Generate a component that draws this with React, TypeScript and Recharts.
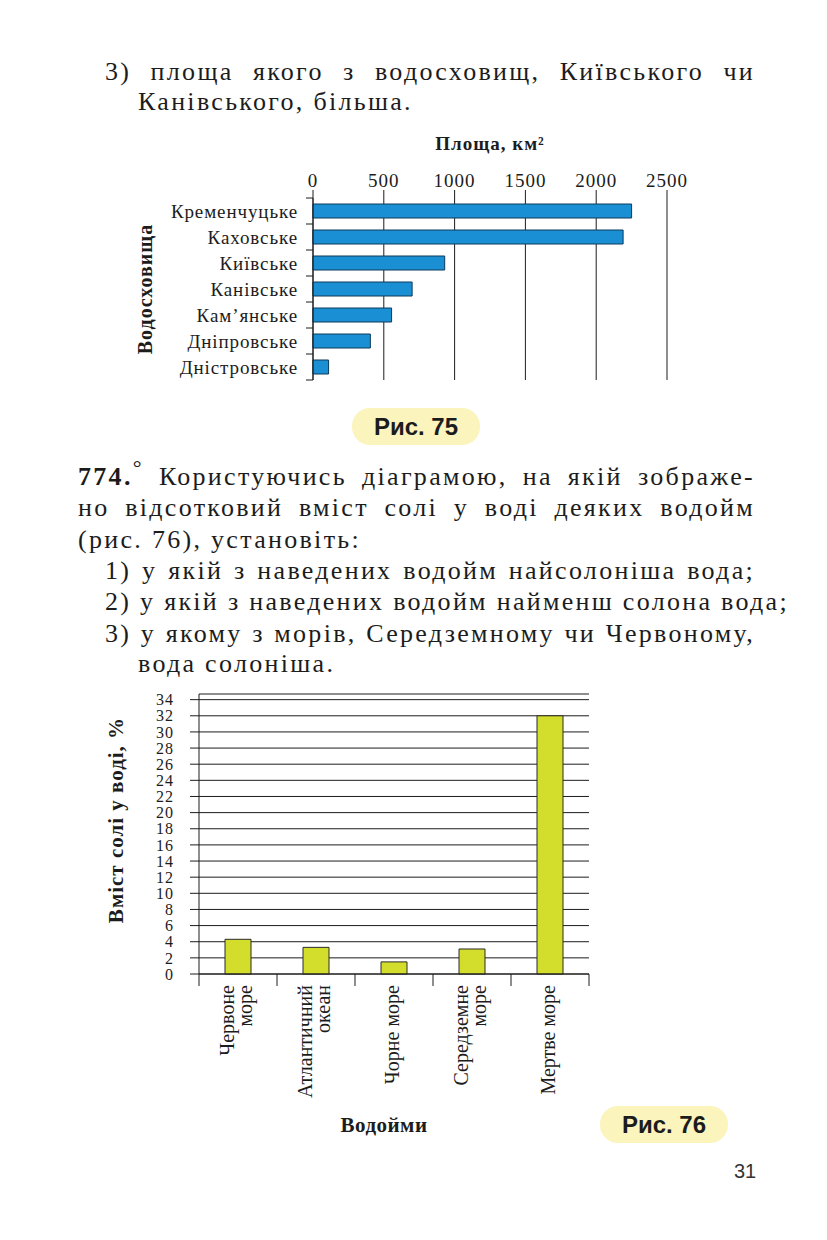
import React from 'react';
import { BarChart, Bar, XAxis, YAxis, CartesianGrid, Label } from 'recharts';

// Рис. 75 — площа водосховищ
const reservoirs = ['Кременчуцьке', 'Каховське', 'Київське', 'Канівське', 'Кам’янське', 'Дніпровське', 'Дністровське'];
const reservoirArea = [2250, 2190, 930, 700, 555, 405, 110];
const areaTicks = [0, 500, 1000, 1500, 2000, 2500];

// Рис. 76 — вміст солі у воді
const waterBodies = ['Червоне море', 'Атлантичний океан', 'Чорне море', 'Середземне море', 'Мертве море'];
const waterBodyLines = [['Червоне', 'море'], ['Атлантичний', 'океан'], ['Чорне море'], ['Середземне', 'море'], ['Мертве море']];
const saltPercent = [4.3, 3.3, 1.5, 3.1, 32];
const saltTicks = [0, 2, 4, 6, 8, 10, 12, 14, 16, 18, 20, 22, 24, 26, 28, 30, 32, 34];

const areaData = reservoirs.map((name, i) => ({ name, area: reservoirArea[i] }));
const saltData = waterBodies.map((name, i) => ({ name, salt: saltPercent[i] }));

const INK = '#1c1c1c';
const SERIF = '"Liberation Serif", "Times New Roman", serif';
const SANS = '"Liberation Sans", Arial, sans-serif';

const PLOT1_H = 182;
const PLOT2_W = 390;

const sideTitle = (text: string, dx: number, dy: number, size: number, spacing: number) => (props: any) => {
  const vb = props.viewBox;
  const x = vb.x + dx;
  const y = vb.y + vb.height / 2 + dy;
  return (
    <text x={x} y={y} transform={`rotate(-90 ${x} ${y})`} textAnchor="middle" dominantBaseline="central"
      fontFamily={SERIF} fontSize={size} fontWeight="bold" letterSpacing={spacing} fill={INK}>
      {text}
    </text>
  );
};

const ReservoirTick = (props: any) => {
  const { x, y, payload, index } = props;
  const band = PLOT1_H / reservoirs.length;
  return (
    <g>
      <line x1={x - 7} x2={x} y1={y - band / 2} y2={y - band / 2} stroke={INK} />
      {index === reservoirs.length - 1 && <line x1={x - 7} x2={x} y1={y + band / 2} y2={y + band / 2} stroke={INK} />}
      <text x={x - 15} y={y} textAnchor="end" dominantBaseline="central" fontFamily={SERIF} fontSize={19}
        letterSpacing={0.9} fill={INK}>
        {payload.value}
      </text>
    </g>
  );
};

const WaterTick = (props: any) => {
  const { x, y, index } = props;
  const band = PLOT2_W / waterBodies.length;
  const lines = waterBodyLines[index] || [];
  const step = 18;
  return (
    <g>
      <line x1={x - band / 2} x2={x - band / 2} y1={y} y2={y + 12} stroke={INK} />
      {index === waterBodies.length - 1 && <line x1={x + band / 2} x2={x + band / 2} y1={y} y2={y + 12} stroke={INK} />}
      {lines.map((ln, i) => {
        const cx = x - 2 + (i - (lines.length - 1) / 2) * step;
        const cy = y + 11;
        return (
          <text key={i} x={cx} y={cy} transform={`rotate(-90 ${cx} ${cy})`} textAnchor="end" dominantBaseline="central"
            fontFamily={SERIF} fontSize={20} fill={INK}>
            {ln}
          </text>
        );
      })}
    </g>
  );
};

const Pill = ({ left, top, text }: { left: number; top: number; text: string }) => (
  <div style={{
    position: 'absolute', left, top, width: 128, height: 37, borderRadius: 18, background: '#fbf4bd',
    display: 'flex', alignItems: 'center', justifyContent: 'center',
    fontFamily: SANS, fontWeight: 'bold', fontSize: 24, color: INK,
  }}>{text}</div>
);

const Line = ({ top, left, width, justify, children }: any) => (
  <div style={{
    position: 'absolute', top, left, width, whiteSpace: 'nowrap', lineHeight: '30px', fontSize: 26,
    letterSpacing: 2.3, fontFamily: SERIF, color: INK,
    textAlign: justify ? 'justify' : 'left', textAlignLast: justify ? 'justify' : 'left',
  }}>{children}</div>
);

export default function App() {
  return (
    <div style={{ position: 'absolute', left: 0, top: 0, width: 827, height: 1240, background: '#fff', overflow: 'hidden' }}>
      <Line top={57} left={105} width={650} justify>3) площа якого з водосховищ, Київського чи</Line>
      <Line top={87} left={138}>Канівського, більша.</Line>

      <div style={{ position: 'absolute', left: 130, top: 125 }}>
        <BarChart width={570} height={265} data={areaData} layout="vertical"
          margin={{ top: 43, right: 33, bottom: 10, left: 0 }} barSize={14}>
          <CartesianGrid horizontal={false} stroke={INK} />
          <XAxis type="number" orientation="top" domain={[0, 2500]} ticks={areaTicks} axisLine={false}
            tickSize={8} tickMargin={3} tickLine={{ stroke: INK }} height={30} interval={0}
            tick={{ fill: INK, fontSize: 19, fontFamily: SERIF, letterSpacing: 1 }}>
            <Label value="Площа, км²" position="top" offset={18}
              style={{ fontFamily: SERIF, fontSize: 19, fontWeight: 'bold', letterSpacing: 1, fill: INK }} />
          </XAxis>
          <YAxis type="category" dataKey="name" width={183} axisLine={{ stroke: INK }} tickLine={false}
            tickSize={0} tickMargin={0} interval={0} tick={<ReservoirTick />}>
            <Label content={sideTitle('Водосховища', 15, 0, 20, 1)} />
          </YAxis>
          <Bar dataKey="area" fill="#1b8fd4" stroke="#0c3a5a" strokeWidth={1} isAnimationActive={false} />
        </BarChart>
      </div>

      <Pill left={352} top={408} text="Рис. 75" />

      <Line top={462} left={78} width={677} justify>
        <b>774.</b><span style={{ fontSize: 22, verticalAlign: 'super', lineHeight: 0 }}>°</span> Користуючись діаграмою, на якій зображе-
      </Line>
      <Line top={493} left={78} width={677} justify>но відсотковий вміст солі у воді деяких водойм</Line>
      <Line top={525} left={78}>(рис. 76), установіть:</Line>
      <Line top={556} left={105} width={650} justify>1) у якій з наведених водойм найсолоніша вода;</Line>
      <Line top={587} left={105} width={650} justify>2) у якій з наведених водойм найменш солона вода;</Line>
      <Line top={619} left={105} width={650} justify>3) у якому з морів, Середземному чи Червоному,</Line>
      <Line top={649} left={138}>вода солоніша.</Line>

      <div style={{ position: 'absolute', left: 100, top: 680 }}>
        <BarChart width={510} height={470} data={saltData}
          margin={{ top: 14, right: 21, bottom: 0, left: 0 }} barSize={26}>
          <CartesianGrid vertical={false} stroke={INK} />
          <XAxis dataKey="name" axisLine={{ stroke: INK }} tickLine={false} tickSize={0} tickMargin={0}
            height={176} interval={0} tick={<WaterTick />}>
            <Label value="Водойми" position="insideBottom" offset={18} dx={-10}
              style={{ fontFamily: SERIF, fontSize: 21, fontWeight: 'bold', letterSpacing: 0.5, fill: INK }} />
          </XAxis>
          <YAxis type="number" domain={[0, 34.7]} ticks={saltTicks} width={99} interval={0}
            axisLine={{ stroke: INK }} tickLine={{ stroke: INK }} tickSize={9} tickMargin={16}
            tick={{ fill: INK, fontSize: 16, fontFamily: SERIF, letterSpacing: 1 }}>
            <Label content={sideTitle('Вміст солі у воді, %', 16, -14, 21, 1)} />
          </YAxis>
          <Bar dataKey="salt" fill="#d3dd2b" stroke="#2a2a2a" strokeWidth={1} isAnimationActive={false} />
        </BarChart>
      </div>

      <Pill left={600} top={1106} text="Рис. 76" />

      <div style={{ position: 'absolute', left: 734, top: 1160, fontFamily: SANS, fontSize: 20, color: '#333' }}>31</div>
    </div>
  );
}
